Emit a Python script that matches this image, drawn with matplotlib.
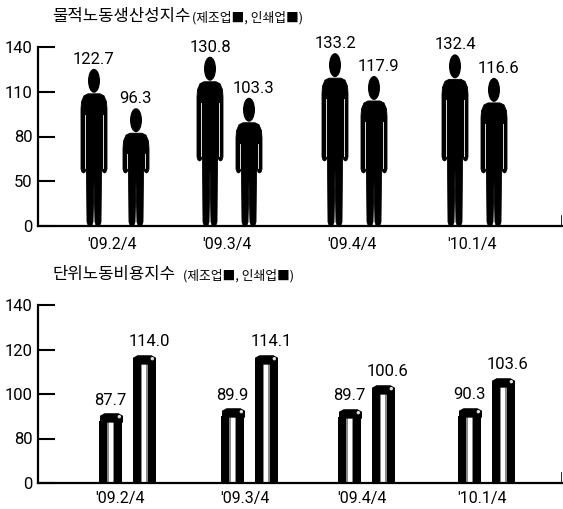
import numpy as np
import matplotlib
matplotlib.use("Agg")
import matplotlib.pyplot as plt
from matplotlib.patches import PathPatch, Ellipse
from matplotlib.path import Path
from matplotlib.transforms import Affine2D

plt.rcParams["font.family"] = ["Roboto", "Noto Sans CJK KR", "DejaVu Sans"]

quarters = ["'09.2/4", "'09.3/4", "'09.4/4", "'10.1/4"]
physical_mfg = [122.7, 130.8, 133.2, 132.4]
physical_print = [96.3, 103.3, 117.9, 116.6]
labor_mfg = [87.7, 89.9, 89.7, 90.3]
labor_print = [114.0, 114.1, 100.6, 103.6]
physical_ticks = [0, 50, 80, 110, 140]
labor_ticks = [0, 80, 100, 120, 140]

title_top = "물적노동생산성지수"
title_bottom = "단위노동비용지수"
subtitle = "(제조업■, 인쇄업■)"

W, H = 563, 509
KR = ["Noto Sans CJK KR", "DejaVu Sans"]

# layout, in reference pixels
AX_LEFT, AX_RIGHT = 38, 562
person_x = [(94, 136), (210, 249), (335, 374), (455, 494)]
person_label_x = [(94, 136), (210, 254), (335, 378), (455, 498)]
bar_x = [(110.5, 144), (232.5, 266), (349.5, 383), (469.5, 503)]
top_tick_x = [112, 227, 352, 472]
bottom_tick_x = [120, 245, 362, 482]


def make_axes(fig, y_top, y_base, ticks):
    ax = fig.add_axes([AX_LEFT / W, 1 - y_base / H, (AX_RIGHT - AX_LEFT) / W, (y_base - y_top) / H])
    steps = np.arange(len(ticks))
    # the printed axis is broken: ticks are evenly spaced whatever their value
    ax.set_yscale("function", functions=(lambda v: np.interp(v, ticks, steps),
                                         lambda p: np.interp(p, steps, ticks)))
    ax.set_xlim(AX_LEFT, AX_RIGHT)
    ax.set_ylim(0, 140)
    ax.set_yticks(ticks)
    ax.set_yticklabels([str(t) for t in ticks])
    ax.minorticks_off()
    ax.tick_params(axis="y", direction="in", length=12.5, width=1.5, pad=4, labelsize=12)
    ax.tick_params(axis="x", length=0, labelsize=11.5)
    ax.spines[["top", "right"]].set_visible(False)
    ax.spines[["left", "bottom"]].set_linewidth(1.6)
    ax.axvline(AX_RIGHT - 0.5, ymax=0.055, color="black", lw=1.2)
    ax.patch.set_alpha(0)
    return ax


def person(ax, x, value):
    # figure is built in pixels above the feet, head keeps its size
    y_base = ax.transData.transform((x, 0))[1]
    h = ax.transData.transform((x, value))[1] - y_base + 4
    hand = 65 if h > 160 else 53
    half = np.array([
        (0, h - 25), (6, h - 25), (10, h - 27), (12.5, h - 33), (13, h - 40),
        (13, hand + 4), (12, hand + 1), (10.5, hand), (9, hand + 1), (8, hand + 4),
        (7.5, hand), (7, 4), (6, 1), (4, 0), (2, 1), (1, 4), (0, hand - 8),
    ])
    verts = np.vstack([half, half[::-1] * [-1, 1]])
    tr = Affine2D().translate(x, y_base)
    ax.add_patch(PathPatch(Path(verts), fc="black", ec="black", lw=0.6, transform=tr, clip_on=False))
    ax.add_patch(Ellipse((0, h - 12), 12, 24, fc="black", ec="none", transform=tr, clip_on=False))
    # thin gaps between the arms and the body
    for sx in (-9, 9):
        ax.plot([sx, sx], [hand + 5, h - 46], color="white", lw=0.6, transform=tr, clip_on=False)
    return h


def draw_people(ax, values, xs, label_xs):
    for x, lx, v in zip(xs, label_xs, values):
        h = person(ax, x, v)
        ax.annotate(f"{v:.1f}", xy=(lx, 0), xycoords=("data", "axes pixels"), xytext=(0, h + 9.5),
                    textcoords=("offset pixels", "axes pixels"), ha="center", va="center",
                    fontsize=12, annotation_clip=False)


cap_marker = Path(np.array([(-1, -0.1), (-1, 0.5), (-0.6, 0.72), (0.6, 0.72), (1, 0.5), (1, -0.1)]))
glint_marker = Path.make_compound_path(
    Path.circle((0.68, 0.42), 0.15),
    Path([(1, 1), (1, 1)], [Path.MOVETO, Path.LINETO]),
)


def draw_bars(ax, values, xs, label_offset):
    BAR_W = 23
    ax.bar(xs, values, width=BAR_W, color="black", zorder=2)
    ax.bar(xs, values, width=7, color="#8a8a8a", zorder=2.1)
    ax.bar(xs, values, width=4, color="white", zorder=2.2)
    ax.scatter(xs, values, marker=cap_marker, s=(BAR_W * 0.72) ** 2, color="black", linewidths=0, zorder=3)
    ax.scatter(xs, values, marker=glint_marker, s=(BAR_W * 0.72) ** 2, color="#dddddd", linewidths=0, zorder=3.1)
    for x, v in zip(xs, values):
        ax.annotate(f"{v:.1f}", xy=(x + label_offset, v), xytext=(0, 21), textcoords="offset pixels",
                    ha="center", va="center", fontsize=12, annotation_clip=False)


fig = plt.figure(figsize=(W / 100, H / 100), dpi=100, facecolor="white")

# top chart: physical labour productivity
ax1 = make_axes(fig, 47, 226, physical_ticks)
draw_people(ax1, physical_mfg, [p[0] for p in person_x], [p[0] for p in person_label_x])
draw_people(ax1, physical_print, [p[1] for p in person_x], [p[1] for p in person_label_x])
ax1.set_xticks(top_tick_x)
ax1.set_xticklabels(quarters)
ax1.tick_params(axis="x", pad=8)

# bottom chart: unit labour cost
ax2 = make_axes(fig, 305, 483, labor_ticks)
draw_bars(ax2, labor_mfg, [b[0] for b in bar_x], 0)
draw_bars(ax2, labor_print, [b[1] for b in bar_x], 5)
ax2.set_xticks(bottom_tick_x)
ax2.set_xticklabels(quarters)
ax2.tick_params(axis="x", pad=6)

fig.text(52 / W, 1 - 16 / H, title_top, family=KR, fontsize=12, weight="medium", va="center", ha="left")
fig.text(192 / W, 1 - 18 / H, subtitle, family=KR, fontsize=9.2, va="center", ha="left")
fig.text(52 / W, 1 - 275 / H, title_bottom, family=KR, fontsize=12, weight="medium", va="center", ha="left")
fig.text(183 / W, 1 - 276 / H, subtitle, family=KR, fontsize=9.2, va="center", ha="left")

fig.savefig("out.png", dpi=100)
